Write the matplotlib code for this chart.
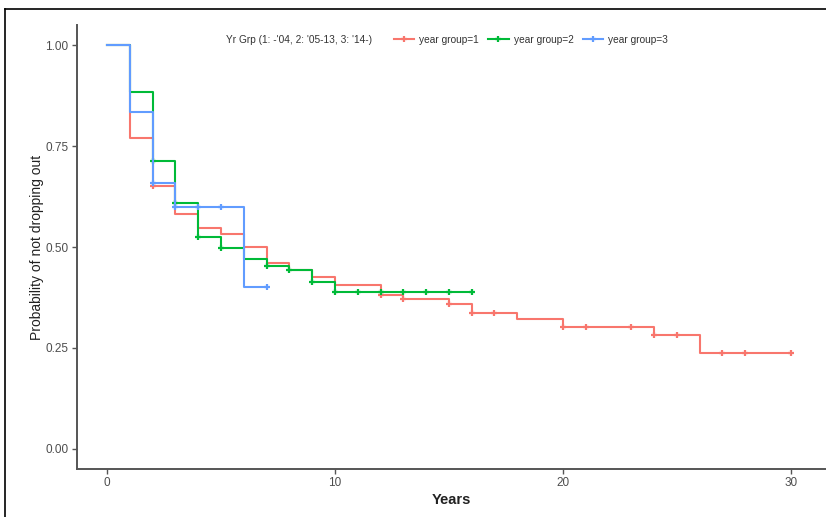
import numpy as np
import matplotlib.pyplot as plt
from matplotlib.lines import Line2D

plt.rcParams['font.family'] = ['Liberation Sans', 'DejaVu Sans']

# Kaplan-Meier steps
red_t = [0, 1, 2, 3, 4, 5, 6, 7, 8, 9, 10, 12, 13, 15, 16, 18, 20, 24, 26]
red_s = [1.0, 0.77, 0.65, 0.582, 0.547, 0.532, 0.50, 0.46, 0.443, 0.425, 0.406,
         0.381, 0.371, 0.36, 0.336, 0.322, 0.303, 0.282, 0.238]
red_end = 30
red_cens = [2, 12, 13, 15, 16, 17, 20, 21, 23, 24, 25, 27, 28, 30]

green_t = [0, 1, 2, 3, 4, 5, 6, 7, 8, 9, 10]
green_s = [1.0, 0.885, 0.714, 0.609, 0.525, 0.497, 0.47, 0.453, 0.443, 0.414, 0.389]
green_end = 16
green_cens = [2, 3, 4, 5, 7, 8, 9, 10, 11, 12, 13, 14, 15, 16]

blue_t = [0, 1, 2, 3, 6]
blue_s = [1.0, 0.834, 0.658, 0.60, 0.40]
blue_end = 7
blue_cens = [2, 3, 4, 5, 7]

labels = ['year group=1', 'year group=2', 'year group=3']
colors = ['#F8766D', '#00BA38', '#619CFF']
legend_title = "Yr Grp (1: -'04, 2: '05-13, 3: '14-)"

fig = plt.figure(figsize=(8.26, 5.17), dpi=100)
ax = fig.add_axes([77/826, 1-469/517, 749/826, 444/517])

groups = [(red_t, red_s, red_end, red_cens),
          (green_t, green_s, green_end, green_cens),
          (blue_t, blue_s, blue_end, blue_cens)]

handles = []
for (t, s, end, cens), col, lab in zip(groups, colors, labels):
    tt = list(t) + [end]
    ss = list(s) + [s[-1]]
    ax.step(tt, ss, where='post', color=col, lw=1.5)
    idx = np.searchsorted(t, cens, side='right') - 1
    cy = np.array(s)[idx]
    ax.plot(cens, cy, ls='none', marker='+', ms=5, mew=1.6, color=col)
    handles.append(Line2D([0], [0], color=col, lw=1.5, marker='+', ms=5, mew=1.6))

ax.set_xlim(-1.32, 31.55)
ax.set_ylim(-0.05, 1.05)
ax.set_xticks([0, 10, 20, 30])
ax.set_yticks([0, 0.25, 0.5, 0.75, 1.0])
ax.set_yticklabels(['0.00', '0.25', '0.50', '0.75', '1.00'])
for sp in ['top', 'right']:
    ax.spines[sp].set_visible(False)
for sp in ['left', 'bottom']:
    ax.spines[sp].set_color('#555555')
    ax.spines[sp].set_linewidth(1.4)
ax.tick_params(colors='#555555', labelcolor='#4d4d4d', labelsize=8.5, length=3.5, width=1, pad=2.5)
ax.set_xlabel('Years', fontsize=10.5, fontweight='bold', color='#222222', labelpad=3)
ax.set_ylabel('Probability of not dropping out', fontsize=10, color='#222222', labelpad=1)

fig.text(226/826, 1-40/517, legend_title, fontsize=7.3, color='#333333', va='center', ha='left')
fig.legend(handles, labels, ncol=3, frameon=False, fontsize=7.3,
           loc='center left', bbox_to_anchor=(385/826, 1-40/517),
           handlelength=2.0, handletextpad=0.5, columnspacing=0.9, labelcolor='#333333')

# outer black frame of the figure image
fig.add_artist(Line2D([5/826, 1], [1-9/517, 1-9/517], color='black', lw=1.2, transform=fig.transFigure))
fig.add_artist(Line2D([5/826, 5/826], [0, 1-9/517], color='black', lw=1.2, transform=fig.transFigure))

fig.savefig('out.png', dpi=100)
